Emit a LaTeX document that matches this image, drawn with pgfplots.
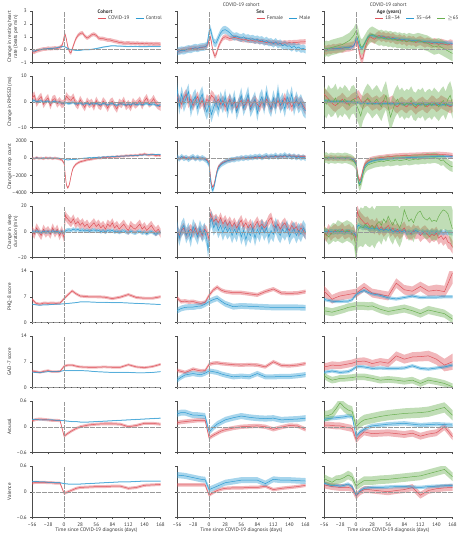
\documentclass[border=0pt]{standalone}
\usepackage{pgfplots}
\usepackage{pgfplotstable}
\pgfplotsset{compat=1.18}
\usepgfplotslibrary{fillbetween}
\usepackage{fontspec}
\setmainfont{PT Sans}
\newcommand{\fs}{\fontsize{5.1}{6}\selectfont}
\definecolor{cred}{RGB}{222,84,92}
\definecolor{cblue}{RGB}{45,155,210}
\definecolor{cgreen}{RGB}{105,175,80}
\newcommand{\bnd}[4]{%
 \addplot[draw=none, forget plot, name path=U#2] table[x=x, y expr=\thisrow{#2}+#3] {#1};
 \addplot[draw=none, forget plot, name path=L#2] table[x=x, y expr=\thisrow{#2}-#3] {#1};
 \addplot[fill=#4, fill opacity=0.42, draw=none, forget plot] fill between[of=U#2 and L#2];}
\newcommand{\lin}[3]{\addplot[#3, line width=0.5pt, forget plot] table[x=x, y=#2] {#1};}
\newcommand{\zl}{%
 \draw[black!40, line width=0.3pt, dash pattern=on 0.4pt off 0.8pt] ({axis cs:0,0}|-{rel axis cs:0,0}) -- ({axis cs:0,0}|-{rel axis cs:0,1});
 \draw[black!40, line width=0.3pt, dash pattern=on 0.4pt off 0.8pt] ({rel axis cs:0,0}|-{axis cs:0,0}) -- ({rel axis cs:1,0}|-{axis cs:0,0});}
\pgfplotsset{
 panel/.style={
  width=128.5pt, height=51.5pt, scale only axis, anchor=north west,
  xmin=-56, xmax=168, clip mode=individual,
  axis lines=left, axis line style={-, black!70, line width=0.35pt},
  tick style={black!70, line width=0.35pt},
  tick align=outside, major tick length=1.8pt,
  xtick={-56,-28,0,28,56,84,112,140,168}, xticklabels={},
  ticklabel style={font=\fs, text=black!80},
  ylabel style={font=\fs, text=black!80, align=center, at={(rel axis cs:-0.2178,0.5)}, anchor=north},
  xlabel style={font=\fs, text=black!80, at={(rel axis cs:0.5,-0.25)}, anchor=center},
  legend style={draw=none, fill=none, font=\fs, text=black!80, legend columns=-1, inner sep=0pt, anchor=west,
    /tikz/every even column/.append style={column sep=4pt}},
  legend cell align=left,
  legend image code/.code={\draw[##1, line width=0.5pt] (0pt,0pt) -- (8pt,0pt);},
 },
 r1/.style={ymin=-1, ymax=3, ytick={-1,0,1,2,3}},
 r2/.style={ymin=-10, ymax=10, ytick={-10,0,10}},
 r3/.style={ymin=-4000, ymax=2000, ytick={-4000,-2000,0,2000}, scaled y ticks=false},
 r4/.style={ymin=-20, ymax=20, ytick={-20,0,20}},
 r5/.style={ymin=0, ymax=14, ytick={0,7,14}},
 r7/.style={ymin=-0.6, ymax=0.6, ytick={-0.6,0,0.6}},
 nol/.style={yticklabels={}},
 bot/.style={xticklabels={–56,–28,0,28,56,84,112,140,168}, xlabel={Time since COVID-19 diagnosis (days)}},
}
% ---------- row 1 ----------
\pgfplotstablenew[
create on use/x/.style={create col/set list={-56,-52,-48,-44,-40,-36,-32,-28,-24,-20,-16,-12,-8,-4,-2,0,2,4,6,8,10,12,16,20,24,28,32,36,40,44,48,52,56,60,64,68,72,76,80,84,88,92,96,100,104,108,112,116,120,124,128,132,136,140,144,148,152,156,160,164,168}},
create on use/a/.style={create col/set list={-0.15,-0.2,-0.1,-0.05,0,0.05,0.05,0.1,0.08,0.1,0.12,0.1,0.15,0.3,0.55,1.0,1.15,0.8,0.3,0,-0.2,-0.25,0.3,0.8,1.1,1.25,1.3,1.05,0.9,1.0,1.15,1.2,1.1,0.9,0.85,0.85,0.8,0.75,0.75,0.7,0.65,0.62,0.55,0.55,0.5,0.5,0.52,0.48,0.5,0.47,0.5,0.45,0.48,0.45,0.47,0.44,0.46,0.43,0.45,0.44,0.42}},
create on use/b/.style={create col/set list={-0.1,-0.12,-0.05,0,0,0.05,0.05,0.08,0.1,0.1,0.12,0.15,0.2,0.22,0.25,0.25,0.2,0.15,0.1,0.05,0.02,0,-0.02,-0.05,-0.05,-0.05,-0.02,0,0,0,0.02,0.05,0.08,0.12,0.15,0.2,0.22,0.25,0.28,0.3,0.3,0.28,0.28,0.27,0.26,0.25,0.25,0.25,0.24,0.24,0.24,0.23,0.23,0.23,0.23,0.24,0.24,0.25,0.25,0.25,0.25}},
columns={x,a,b}]{61}\tAa
\pgfplotstablenew[
create on use/x/.style={create col/set list={-56,-52,-48,-44,-40,-36,-32,-28,-24,-20,-16,-12,-8,-4,-2,0,2,4,6,8,10,12,16,20,24,28,32,36,40,44,48,52,56,60,64,68,72,76,80,84,88,92,96,100,104,108,112,116,120,124,128,132,136,140,144,148,152,156,160,164,168}},
create on use/a/.style={create col/set list={-0.1,-0.12,-0.05,0,-0.02,0.05,0.08,0.1,0.12,0.1,0.15,0.18,0.2,0.3,0.4,0.8,1.0,0.6,0.0,-0.3,-0.5,-0.4,0.2,0.6,0.9,1.0,0.95,0.85,0.9,0.95,0.9,0.85,0.8,0.75,0.8,0.7,0.75,0.7,0.65,0.7,0.6,0.65,0.6,0.55,0.6,0.5,0.55,0.5,0.52,0.48,0.5,0.53,0.5,0.55,0.52,0.56,0.55,0.58,0.6,0.6,0.62}},
create on use/b/.style={create col/set list={-0.15,-0.1,-0.05,-0.08,0,0.05,0.02,0.1,0.15,0.1,0.18,0.2,0.22,0.3,0.8,1.4,1.6,1.3,0.9,0.6,0.5,0.5,0.9,1.3,1.5,1.55,1.45,1.3,1.1,1.0,1.05,0.95,0.9,1.0,0.85,0.9,0.8,0.85,0.75,0.8,0.7,0.75,0.6,0.7,0.55,0.6,0.45,0.6,0.4,0.5,0.3,0.4,0.25,0.3,0.15,0.3,0.1,0.2,0.05,0.1,0.0}},
columns={x,a,b}]{61}\tAb
\pgfplotstablenew[
create on use/x/.style={create col/set list={-56,-52,-48,-44,-40,-36,-32,-28,-24,-20,-16,-12,-8,-4,-2,0,2,4,6,8,10,12,16,20,24,28,32,36,40,44,48,52,56,60,64,68,72,76,80,84,88,92,96,100,104,108,112,116,120,124,128,132,136,140,144,148,152,156,160,164,168}},
create on use/a/.style={create col/set list={0,-0.05,0.05,0,0.1,0.05,0.1,0.15,0.1,0.15,0.2,0.2,0.25,0.3,0.5,0.7,0.6,0.2,-0.3,-0.6,-0.75,-0.6,0.2,0.7,1.0,0.9,0.8,1.0,1.1,0.95,1.05,0.9,1.0,0.85,0.95,0.8,0.75,0.85,0.7,0.8,0.6,0.75,0.65,0.7,0.55,0.65,0.7,0.6,0.5,0.6,0.55,0.45,0.55,0.5,0.4,0.5,0.45,0.4,0.35,0.45,0.4}},
create on use/b/.style={create col/set list={0,0,0.02,0.05,0.05,0.08,0.1,0.1,0.12,0.15,0.15,0.18,0.2,0.3,0.5,0.9,0.9,0.6,0.3,0.15,0.1,0.2,0.6,0.95,1.1,1.1,1.05,1.0,0.95,1.0,0.95,0.9,0.9,0.88,0.85,0.85,0.82,0.8,0.8,0.78,0.75,0.75,0.72,0.7,0.7,0.68,0.65,0.65,0.62,0.6,0.6,0.58,0.56,0.55,0.54,0.53,0.52,0.52,0.5,0.5,0.48}},
create on use/c/.style={create col/set list={0,0.1,0.05,0.15,0.2,0.25,0.3,0.35,0.4,0.5,0.6,0.7,0.9,1.1,1.3,1.45,1.3,1.0,0.6,0.3,0.2,0.3,0.6,0.9,1.1,1.2,1.1,1.0,0.9,0.95,0.85,0.9,0.8,0.85,0.75,0.8,0.7,0.75,0.65,0.7,0.6,0.7,0.65,0.6,0.65,0.7,0.65,0.6,0.55,0.5,0.4,0.3,0.2,0.25,0.3,0.2,0.1,0.0,-0.1,-0.2,-0.3}},
columns={x,a,b,c}]{61}\tAc
% ---------- row 2 ----------
\pgfplotstablenew[
create on use/x/.style={create col/set list={-56,-52,-48,-44,-40,-36,-32,-28,-24,-20,-16,-12,-8,-4,0,4,8,12,16,20,24,28,32,36,40,44,48,52,56,60,64,68,72,76,80,84,88,92,96,100,104,108,112,116,120,124,128,132,136,140,144,148,152,156,160,164,168}},
create on use/a/.style={create col/set list={1.5,2.5,-0.5,1.0,2.0,-1.0,0.5,1.5,-1.5,0.8,1.2,-0.8,0.3,-1.0,-0.5,2.2,1.0,0.5,1.8,-0.5,-1.5,0.8,-0.8,-2.2,0.2,-1.0,-0.3,-2.0,0.5,-1.2,-1.8,0.3,-0.8,-2.5,-0.5,0.2,-1.5,-2.8,-0.3,-1.0,0.5,-1.8,-0.8,-2.2,0.0,-1.2,-0.5,0.6,-1.5,0.3,1.5,-0.8,-0.2,1.2,-0.6,-1.5,-2.0}},
create on use/b/.style={create col/set list={0.3,0.5,0.0,0.2,0.4,-0.2,0.1,0.3,-0.4,0.0,0.2,-0.3,-0.1,-0.5,-0.6,-0.4,-0.8,-0.5,-0.3,-0.9,-0.7,-0.4,-1.0,-0.8,-0.5,-1.1,-0.7,-0.9,-0.6,-1.0,-1.2,-0.6,-0.9,-1.3,-0.8,-0.7,-1.1,-1.4,-0.9,-0.8,-1.0,-1.3,-0.9,-1.2,-0.7,-1.0,-1.1,-0.8,-1.2,-0.9,-0.7,-1.1,-1.0,-0.9,-1.3,-1.5,-1.2}},
columns={x,a,b}]{57}\tBa
\pgfplotstablenew[
create on use/x/.style={create col/set list={-56,-52,-48,-44,-40,-36,-32,-28,-24,-20,-16,-12,-8,-4,0,4,8,12,16,20,24,28,32,36,40,44,48,52,56,60,64,68,72,76,80,84,88,92,96,100,104,108,112,116,120,124,128,132,136,140,144,148,152,156,160,164,168}},
create on use/a/.style={create col/set list={2.0,0.5,-1.0,1.5,3.0,-0.5,1.0,-1.5,0.5,2.0,-1.0,0.5,-2.0,1.0,0.0,2.5,1.5,-0.5,1.0,-1.0,0.5,-2.0,-0.5,1.0,-1.5,0.0,-2.5,-0.5,0.5,-1.5,-1.0,1.0,-2.0,-0.5,0.5,-1.0,-2.0,0.0,-1.5,1.0,-0.5,-2.5,0.0,-1.0,0.5,-1.5,-0.5,1.5,-1.0,0.0,-2.0,-0.5,0.5,-1.0,0.0,-1.5,-3.0}},
create on use/b/.style={create col/set list={5.0,-2.0,3.0,-1.0,1.5,4.0,-3.0,0.5,2.0,-2.5,1.0,3.0,-1.5,-4.0,-1.0,-5.0,-2.0,0.0,-3.0,1.0,-1.5,2.0,-3.5,0.5,-2.0,1.5,-4.0,-1.0,2.5,-2.5,0.0,3.0,-3.0,-1.0,1.0,-4.5,0.0,2.0,-2.0,3.5,-1.0,-3.0,1.5,-2.0,4.0,-1.5,0.5,-3.0,2.0,-0.5,3.0,-2.5,1.0,-1.5,0.0,-2.5,-3.5}},
columns={x,a,b}]{57}\tBb
\pgfplotstablenew[
create on use/x/.style={create col/set list={-56,-52,-48,-44,-40,-36,-32,-28,-24,-20,-16,-12,-8,-4,0,4,8,12,16,20,24,28,32,36,40,44,48,52,56,60,64,68,72,76,80,84,88,92,96,100,104,108,112,116,120,124,128,132,136,140,144,148,152,156,160,164,168}},
create on use/a/.style={create col/set list={3.0,2.0,1.0,0.0,-1.0,-1.5,-0.5,0.0,1.0,0.0,-1.0,-0.5,0.5,1.0,1.5,2.0,0.5,-0.5,0.5,1.0,0.0,-1.0,-0.5,0.0,-1.0,-0.5,0.5,0.0,-1.0,-0.5,0.0,-1.5,-2.0,-1.0,-0.5,-1.5,-2.0,-1.0,-0.5,-1.5,-2.5,-1.5,-1.0,-0.5,-1.5,-2.0,-1.0,0.0,-0.5,-1.5,-1.0,0.0,-0.5,-1.0,-1.5,-2.0,-1.5}},
create on use/b/.style={create col/set list={0.5,0.3,0.4,0.1,0.2,-0.1,0.3,0.0,0.2,-0.2,0.1,-0.1,0.0,-0.3,-0.4,-0.2,-0.6,-0.4,-0.3,-0.7,-0.5,-0.6,-0.8,-0.5,-0.7,-0.9,-0.6,-0.8,-0.5,-0.9,-0.7,-1.0,-0.8,-0.6,-0.9,-1.1,-0.8,-0.9,-1.0,-0.7,-1.1,-0.9,-1.2,-0.8,-1.0,-1.1,-0.9,-1.2,-1.0,-0.8,-1.1,-1.3,-1.0,-1.2,-1.1,-1.4,-1.2}},
create on use/c/.style={create col/set list={0.5,-1.0,1.0,-0.5,0.0,1.5,-1.0,0.5,-0.5,1.0,0.0,-1.5,0.5,1.0,-1.0,-3.0,-5.5,-2.0,0.0,1.5,0.5,-1.0,0.0,1.0,-0.5,-2.0,0.5,2.5,-2.0,-6.0,-3.0,-0.5,1.0,-1.0,0.0,-1.5,-0.5,-1.0,0.5,-1.5,-2.0,-0.5,-1.0,0.0,-2.0,-1.0,-0.5,-1.5,0.0,-1.0,-2.0,-0.5,0.5,-1.5,1.0,2.5,-1.0}},
columns={x,a,b,c}]{57}\tBc
% ---------- row 3 ----------
\pgfplotstablenew[
create on use/x/.style={create col/set list={-56,-52,-48,-44,-40,-36,-32,-28,-24,-20,-16,-12,-8,-4,0,2,4,6,8,10,12,14,16,20,24,28,32,36,40,44,48,52,56,60,64,68,72,76,80,84,88,92,96,100,104,108,112,116,120,124,128,132,136,140,144,148,152,156,160,164,168}},
create on use/a/.style={create col/set list={50,-60,80,-30,20,-80,60,-20,40,-70,30,-50,-100,-200,-600,-2000,-3100,-3450,-3300,-2800,-2100,-1500,-1100,-750,-550,-420,-350,-280,-200,-160,-120,-60,-20,30,0,80,50,120,100,160,120,200,180,250,220,300,260,330,280,350,300,420,380,500,400,350,420,380,300,350,280}},
create on use/b/.style={create col/set list={20,-30,40,0,-20,30,-40,10,-10,20,-30,0,-20,-60,-100,-150,-180,-200,-190,-180,-170,-160,-150,-130,-100,-60,-20,0,20,60,40,90,70,120,100,150,130,170,150,200,180,230,210,250,230,280,260,300,280,330,310,360,340,400,370,420,390,440,410,450,430}},
columns={x,a,b}]{61}\tCa
\pgfplotstablenew[
create on use/x/.style={create col/set list={-56,-52,-48,-44,-40,-36,-32,-28,-24,-20,-16,-12,-8,-4,0,2,4,6,8,10,12,14,16,20,24,28,32,36,40,44,48,52,56,60,64,68,72,76,80,84,88,92,96,100,104,108,112,116,120,124,128,132,136,140,144,148,152,156,160,164,168}},
create on use/a/.style={create col/set list={80,-40,20,100,-60,40,-20,60,-80,30,0,-40,-80,-150,-500,-1900,-3000,-3350,-3200,-2700,-2000,-1400,-1000,-700,-500,-380,-300,-220,-180,-100,-60,-20,0,40,-20,60,20,100,60,140,80,150,100,180,120,200,150,220,160,240,180,260,200,300,220,260,180,240,160,220,150}},
create on use/b/.style={create col/set list={150,-100,200,-50,100,-150,50,180,-80,120,-120,60,-100,-300,-800,-2300,-3400,-3750,-3500,-2900,-2200,-1600,-1200,-800,-600,-450,-300,-250,-150,-200,-50,-100,50,-50,100,0,150,50,200,100,250,50,200,300,100,250,150,350,100,300,200,400,150,300,100,250,50,200,0,150,-50}},
columns={x,a,b}]{61}\tCb
\pgfplotstablenew[
create on use/x/.style={create col/set list={-56,-52,-48,-44,-40,-36,-32,-28,-24,-20,-16,-12,-8,-4,0,2,4,6,8,10,12,14,16,20,24,28,32,36,40,44,48,52,56,60,64,68,72,76,80,84,88,92,96,100,104,108,112,116,120,124,128,132,136,140,144,148,152,156,160,164,168}},
create on use/a/.style={create col/set list={0,40,-30,60,-20,30,-50,20,0,-40,30,-20,-100,-200,-500,-1500,-2300,-2600,-2400,-1900,-1300,-900,-600,-350,-200,-100,-50,0,50,80,100,150,180,200,220,250,260,280,300,310,320,330,340,350,360,370,380,390,400,410,420,430,440,450,460,440,420,400,380,350,300}},
create on use/b/.style={create col/set list={0,-20,30,-10,20,-30,10,0,20,-20,10,0,-80,-200,-700,-2000,-2800,-3000,-2800,-2300,-1700,-1200,-850,-600,-450,-350,-280,-220,-180,-150,-120,-100,-80,-60,-40,-20,0,10,20,40,50,60,80,90,100,110,120,130,140,150,160,170,180,190,200,210,200,210,220,200,210}},
create on use/c/.style={create col/set list={0,100,-100,50,0,-50,50,0,-50,50,0,-100,-200,-400,-800,-1900,-2800,-3200,-3000,-2500,-1900,-1400,-1100,-800,-700,-600,-500,-450,-400,-350,-400,-300,-250,-350,-300,-250,-200,-300,-250,-200,-150,-250,-200,-150,-100,-150,-100,-50,-100,0,-50,0,50,0,-100,-300,-200,-500,-700,-900,-1000}},
columns={x,a,b,c}]{61}\tCc
% ---------- row 4 ----------
\pgfplotstablenew[
create on use/x/.style={create col/set list={-56,-52,-48,-44,-40,-36,-32,-28,-24,-20,-16,-12,-8,-4,-2,0,2,4,8,12,16,20,24,28,32,36,40,44,48,52,56,60,64,68,72,76,80,84,88,92,96,100,104,108,112,116,120,124,128,132,136,140,144,148,152,156,160,164,168}},
create on use/a/.style={create col/set list={1,-2,3,0,-3,2,-1,1,-2,3,-1,2,-3,1,-2,-5,13,11,9,7,10,6,8,5,7,4,6,3,5,7,4,6,3,5,2,6,4,7,3,5,2,4,6,3,1,5,3,2,4,6,2,4,1,3,5,2,0,2,-1}},
create on use/b/.style={create col/set list={0.5,-0.5,0.8,0,-0.8,0.5,-0.3,0.2,-0.6,0.8,-0.2,0.4,-0.8,0.2,-0.5,-0.5,0.5,1.0,1.5,1.0,2.0,1.2,1.8,0.8,1.5,0.5,1.2,0.3,1.0,1.5,0.5,1.0,0.0,0.8,-0.3,1.0,0.3,1.2,-0.2,0.5,-0.5,0.3,0.8,-0.3,-0.8,0.5,-0.5,-1.0,0.0,0.5,-1.0,-0.3,-1.5,-0.5,0.2,-1.0,-2.0,-0.8,-0.5}},
columns={x,a,b}]{59}\tDa
\pgfplotstablenew[
create on use/x/.style={create col/set list={-56,-52,-48,-44,-40,-36,-32,-28,-24,-20,-16,-12,-8,-4,-2,0,2,4,8,12,16,20,24,28,32,36,40,44,48,52,56,60,64,68,72,76,80,84,88,92,96,100,104,108,112,116,120,124,128,132,136,140,144,148,152,156,160,164,168}},
create on use/a/.style={create col/set list={2,-3,1,3,-2,0,2,-1,3,-2,1,-3,2,0,-3,-6,14,12,8,10,7,11,6,9,5,8,4,7,3,6,9,4,7,3,6,2,5,8,4,6,3,5,9,11,5,3,6,2,5,7,3,1,5,2,4,0,3,1,-2}},
create on use/b/.style={create col/set list={3,-5,2,5,-3,1,-6,4,0,-4,3,-2,1,-6,-14,-8,8,10,3,7,1,5,-1,4,0,3,-3,2,-2,4,-4,1,-6,0,-3,3,-5,2,-2,4,-1,3,-4,1,-2,5,0,-3,2,-1,3,-4,0,2,-3,1,-2,3,0}},
columns={x,a,b}]{59}\tDb
\pgfplotstablenew[
create on use/x/.style={create col/set list={-56,-52,-48,-44,-40,-36,-32,-28,-24,-20,-16,-12,-8,-4,-2,0,2,4,8,12,16,20,24,28,32,36,40,44,48,52,56,60,64,68,72,76,80,84,88,92,96,100,104,108,112,116,120,124,128,132,136,140,144,148,152,156,160,164,168}},
create on use/a/.style={create col/set list={0,-3,1,-2,0,1,-1,0,2,-1,0,1,-2,0,-3,-5,16,13,10,8,6,7,4,5,3,6,2,4,1,3,5,1,3,0,2,-1,1,3,-1,0,-2,1,-1,0,-3,-1,0,-2,-4,-2,-3,-1,-5,-3,-6,-4,-8,-9,-12}},
create on use/b/.style={create col/set list={0,0.5,-0.5,0.3,-0.3,0.2,-0.2,0.5,0,-0.5,0.3,0,-0.5,-1,-2,-3,4,5,4,3,4,3,2,3,2,3,1,2,1,2,1,2,0,1,0,1,0,1,-1,0,-1,0,1,0,-1,0,-1,0,-1,0,-1,0,-1,0,-1,0,-1,-0.5,-1}},
create on use/c/.style={create col/set list={0,-2,-4,-2,0,-1,1,0,-1,0,1,0,-1,-3,-8,-18,-4,2,4,3,6,4,3,5,2,6,8,5,10,7,12,8,5,10,6,3,8,17,12,8,10,7,12,15,16,12,10,9,11,8,9,8,12,15,17,16,14,8,2}},
create on use/ec/.style={create col/set list={4,5,6,7,7,7,8,8,8,8,8,8,8,8,9,12,12,14,15,15,15,15,15,15,15,15,15,15,15,15,15,15,15,15,15,15,15,15,15,15,15,15,15,15,15,15,15,15,15,15,15,15,15,15,15,15,15,15,15}},
columns={x,a,b,c,ec}]{59}\tDc
% ---------- rows 5-8 ----------
\pgfplotstablenew[
create on use/x/.style={create col/set list={-56,-49,-42,-35,-28,-21,-14,-7,0,7,14,21,28,42,56,70,84,98,112,126,140,154,168}},
create on use/a/.style={create col/set list={6.3,5.2,5.0,5.3,5.2,5.3,5.2,5.3,6.5,7.6,8.6,7.8,7.2,7.0,7.0,6.9,6.5,6.9,7.6,6.8,6.6,6.6,7.0}},
create on use/b/.style={create col/set list={5.0,4.8,4.7,4.8,4.8,4.9,5.0,5.0,5.1,5.2,5.3,5.4,5.6,5.6,5.5,5.5,5.4,5.4,5.3,5.2,5.1,5.0,4.9}},
columns={x,a,b}]{23}\tEa
\pgfplotstablenew[
create on use/x/.style={create col/set list={-56,-49,-42,-35,-28,-21,-14,-7,0,7,14,21,28,42,56,70,84,98,112,126,140,154,168}},
create on use/a/.style={create col/set list={6.7,5.7,5.8,5.6,5.7,5.4,5.2,5.5,7.4,8.8,9.6,8.8,8.4,8.1,8.1,7.8,7.5,8.4,9.1,8.0,7.9,8.0,8.4}},
create on use/b/.style={create col/set list={3.2,3.8,4.1,4.2,4.2,4.4,4.5,5.0,5.7,6.2,6.6,5.8,5.1,4.3,4.5,4.4,4.3,4.2,4.1,4.1,4.1,4.1,4.0}},
columns={x,a,b}]{23}\tEb
\pgfplotstablenew[
create on use/x/.style={create col/set list={-56,-49,-42,-35,-28,-21,-14,-7,0,7,14,21,28,42,56,70,84,98,112,126,140,154,168}},
create on use/a/.style={create col/set list={8.5,7.5,6.3,6.8,7.2,7.4,7.6,7.8,8.0,8.8,9.6,8.8,8.0,7.6,7.2,10.7,8.9,8.5,9.8,8.5,8.8,8.4,13.5}},
create on use/ea/.style={create col/set list={1.5,1.3,1.2,1.2,1.2,1.2,1.2,1.2,1.2,1.2,1.2,1.2,1.2,1.2,1.2,1.3,1.3,1.3,1.3,1.4,1.5,1.6,3.0}},
create on use/b/.style={create col/set list={6.3,6.0,5.8,5.7,5.7,5.8,5.8,6.2,7.6,8.3,8.7,8.2,7.8,7.4,6.7,6.4,6.8,7.2,6.8,6.9,6.9,7.0,7.0}},
create on use/c/.style={create col/set list={3.2,3.0,2.8,3.1,3.4,3.7,4.1,4.3,4.5,4.5,4.5,4.4,4.5,3.6,3.0,3.4,3.8,3.2,2.4,3.4,2.9,2.4,0.9}},
columns={x,a,ea,b,c}]{23}\tEc
\pgfplotstablenew[
create on use/x/.style={create col/set list={-56,-49,-42,-35,-28,-21,-14,-7,0,7,14,21,28,42,56,70,84,98,112,126,140,154,168}},
create on use/a/.style={create col/set list={4.5,4.3,4.1,4.4,4.6,4.3,4.3,4.4,5.8,6.1,6.1,5.8,5.6,5.5,5.5,5.6,5.5,5.5,6.2,5.6,5.4,5.7,6.3}},
create on use/b/.style={create col/set list={4.2,4.1,4.1,4.2,4.3,4.3,4.3,4.4,4.6,4.6,4.6,4.6,4.6,4.5,4.3,4.2,4.1,4.1,4.1,4.0,4.0,4.1,4.3}},
columns={x,a,b}]{23}\tFa
\pgfplotstablenew[
create on use/x/.style={create col/set list={-56,-49,-42,-35,-28,-21,-14,-7,0,7,14,21,28,42,56,70,84,98,112,126,140,154,168}},
create on use/a/.style={create col/set list={4.7,4.4,4.1,4.5,5.0,4.7,4.5,4.6,6.3,6.6,6.7,6.5,6.4,6.2,6.1,6.2,6.1,5.6,7.0,6.0,5.9,6.1,6.5}},
create on use/b/.style={create col/set list={2.0,2.8,3.4,3.6,3.8,3.6,3.5,3.9,4.5,4.3,4.1,3.7,3.4,2.9,3.1,2.9,3.8,2.9,2.9,3.0,3.0,3.2,3.5}},
columns={x,a,b}]{23}\tFb
\pgfplotstablenew[
create on use/x/.style={create col/set list={-56,-49,-42,-35,-28,-21,-14,-7,0,7,14,21,28,42,56,70,84,98,112,126,140,154,168}},
create on use/a/.style={create col/set list={5.6,5.8,6.1,6.0,6.0,6.2,6.4,6.6,7.0,7.1,7.2,6.9,6.5,7.0,6.6,8.6,7.7,8.3,8.4,8.6,7.7,6.1,7.0}},
create on use/ea/.style={create col/set list={1.0,1.0,1.0,1.0,1.0,1.0,1.0,1.0,1.0,1.0,1.0,1.0,1.0,1.0,1.1,1.2,1.2,1.3,1.3,1.4,1.5,1.7,2.2}},
create on use/b/.style={create col/set list={4.1,4.3,4.5,4.3,4.1,4.2,4.3,4.8,5.6,5.7,5.6,5.4,5.2,5.3,5.2,5.2,5.3,5.9,5.2,5.0,5.3,5.6,6.1}},
create on use/c/.style={create col/set list={3.2,2.5,2.0,2.2,2.5,2.5,2.6,2.7,2.9,2.9,2.9,2.7,2.5,2.0,2.2,2.0,1.7,2.0,1.1,2.0,1.6,1.1,0.2}},
columns={x,a,ea,b,c}]{23}\tFc
\pgfplotstablenew[
create on use/x/.style={create col/set list={-56,-49,-42,-35,-28,-21,-14,-7,0,7,14,21,28,42,56,70,84,98,112,126,140,154,168}},
create on use/a/.style={create col/set list={0.14,0.17,0.18,0.17,0.16,0.15,0.15,0.14,-0.22,-0.15,-0.09,-0.04,0.0,0.04,0.06,0.07,0.07,0.06,0.0,0.03,0.08,0.08,0.06}},
create on use/b/.style={create col/set list={0.17,0.17,0.16,0.16,0.16,0.16,0.15,0.15,0.14,0.13,0.12,0.12,0.11,0.11,0.12,0.13,0.14,0.15,0.16,0.17,0.18,0.19,0.2}},
columns={x,a,b}]{23}\tGa
\pgfplotstablenew[
create on use/x/.style={create col/set list={-56,-49,-42,-35,-28,-21,-14,-7,0,7,14,21,28,42,56,70,84,98,112,126,140,154,168}},
create on use/a/.style={create col/set list={0.09,0.11,0.12,0.13,0.14,0.15,0.15,0.15,-0.26,-0.2,-0.15,-0.1,-0.07,-0.03,0.0,0.01,0.02,0.0,-0.06,-0.01,0.03,0.02,-0.06}},
create on use/b/.style={create col/set list={0.3,0.33,0.33,0.3,0.27,0.27,0.26,0.25,-0.12,-0.02,0.06,0.11,0.16,0.21,0.25,0.22,0.2,0.19,0.2,0.16,0.17,0.18,0.2}},
columns={x,a,b}]{23}\tGb
\pgfplotstablenew[
create on use/x/.style={create col/set list={-56,-49,-42,-35,-28,-21,-14,-7,0,7,14,21,28,42,56,70,84,98,112,126,140,154,168}},
create on use/a/.style={create col/set list={0.04,0.04,0.03,0.02,0.02,0.0,-0.02,-0.04,-0.3,-0.2,-0.12,-0.14,-0.16,-0.15,-0.14,-0.16,-0.18,-0.15,-0.22,-0.17,-0.14,0.0,-0.23}},
create on use/b/.style={create col/set list={0.17,0.19,0.2,0.21,0.22,0.23,0.25,0.24,-0.22,-0.12,-0.06,-0.01,0.02,0.04,0.06,0.07,0.08,0.06,0.04,0.05,0.06,0.05,0.04}},
create on use/c/.style={create col/set list={0.25,0.26,0.3,0.42,0.56,0.46,0.39,0.36,0.0,0.1,0.16,0.18,0.2,0.24,0.27,0.29,0.31,0.32,0.33,0.35,0.4,0.45,0.27}},
columns={x,a,b,c}]{23}\tGc
\pgfplotstablenew[
create on use/x/.style={create col/set list={-56,-49,-42,-35,-28,-21,-14,-7,0,7,14,21,28,42,56,70,84,98,112,126,140,154,168}},
create on use/a/.style={create col/set list={0.2,0.22,0.22,0.22,0.21,0.21,0.2,0.2,-0.04,0.0,0.04,0.08,0.1,0.11,0.12,0.12,0.13,0.13,0.08,0.1,0.15,0.16,0.17}},
create on use/b/.style={create col/set list={0.24,0.24,0.23,0.23,0.22,0.22,0.21,0.21,0.19,0.18,0.18,0.18,0.18,0.19,0.2,0.21,0.22,0.23,0.23,0.24,0.25,0.25,0.25}},
columns={x,a,b}]{23}\tHa
\pgfplotstablenew[
create on use/x/.style={create col/set list={-56,-49,-42,-35,-28,-21,-14,-7,0,7,14,21,28,42,56,70,84,98,112,126,140,154,168}},
create on use/a/.style={create col/set list={0.16,0.16,0.16,0.16,0.16,0.16,0.16,0.16,-0.08,-0.02,0.03,0.06,0.08,0.09,0.09,0.1,0.1,0.13,0.05,0.08,0.1,0.12,0.15}},
create on use/b/.style={create col/set list={0.39,0.38,0.37,0.35,0.33,0.31,0.29,0.28,0.05,0.09,0.13,0.17,0.21,0.24,0.27,0.27,0.27,0.19,0.29,0.27,0.27,0.26,0.25}},
columns={x,a,b}]{23}\tHb
\pgfplotstablenew[
create on use/x/.style={create col/set list={-56,-49,-42,-35,-28,-21,-14,-7,0,7,14,21,28,42,56,70,84,98,112,126,140,154,168}},
create on use/a/.style={create col/set list={0.16,0.14,0.12,0.11,0.1,0.1,0.1,0.08,-0.1,0.0,0.05,0.05,0.04,0.02,0.0,0.03,0.05,0.1,-0.08,0.03,0.07,0.09,0.1}},
create on use/b/.style={create col/set list={0.2,0.17,0.14,0.15,0.13,0.15,0.18,0.12,-0.08,0.02,0.08,0.09,0.1,0.1,0.11,0.12,0.12,0.11,0.1,0.12,0.13,0.14,0.15}},
create on use/c/.style={create col/set list={0.31,0.26,0.22,0.28,0.29,0.33,0.39,0.34,0.13,0.2,0.26,0.26,0.26,0.28,0.29,0.31,0.33,0.35,0.37,0.42,0.47,0.52,0.35}},
columns={x,a,b,c}]{23}\tHc
\begin{document}
\begin{tikzpicture}
% ===== row 1 =====
\begin{axis}[panel, r1, at={(32pt,-11pt)}, yticklabels={–1,0,1,2,3},
  ylabel={Change in resting heart\\rate (beats per min)}, legend style={at={(0.51,0.86)}}]
\bnd{\tAa}{a}{0.15}{cred}\bnd{\tAa}{b}{0.05}{cblue}
\lin{\tAa}{a}{cred}\lin{\tAa}{b}{cblue}\zl
\addlegendimage{cred}\addlegendentry{COVID-19}
\addlegendimage{cblue}\addlegendentry{Control}
\node[font=\fs\bfseries, text=black!80, anchor=west, inner sep=0pt] at (rel axis cs:0.51,0.985) {Cohort};
\end{axis}
\begin{axis}[panel, r1, nol, at={(177pt,-11pt)}, legend style={at={(0.617,0.86)}}]
\bnd{\tAb}{a}{0.2}{cred}\bnd{\tAb}{b}{0.3}{cblue}
\lin{\tAb}{a}{cred}\lin{\tAb}{b}{cblue}\zl
\addlegendimage{cred}\addlegendentry{Female}
\addlegendimage{cblue}\addlegendentry{Male}
\node[font=\fs\bfseries, text=black!80, anchor=west, inner sep=0pt] at (rel axis cs:0.617,0.985) {Sex};
\node[font=\fs, text=black!80, inner sep=0pt] at (rel axis cs:0.5,1.12) {COVID-19 cohort};
\end{axis}
\begin{axis}[panel, r1, nol, at={(324pt,-11pt)}, legend style={at={(0.395,0.86)}}]
\bnd{\tAc}{a}{0.35}{cred}\bnd{\tAc}{b}{0.15}{cblue}\bnd{\tAc}{c}{0.6}{cgreen}
\lin{\tAc}{a}{cred}\lin{\tAc}{b}{cblue}\lin{\tAc}{c}{cgreen}\zl
\addlegendimage{cred}\addlegendentry{18–34}
\addlegendimage{cblue}\addlegendentry{35–64}
\addlegendimage{cgreen}\addlegendentry{$\geq$65}
\node[font=\fs\bfseries, text=black!80, anchor=west, inner sep=0pt] at (rel axis cs:0.41,0.985) {Age (years)};
\node[font=\fs, text=black!80, inner sep=0pt] at (rel axis cs:0.5,1.12) {COVID-19 cohort};
\end{axis}
% ===== row 2 =====
\begin{axis}[panel, r2, at={(32pt,-76pt)}, yticklabels={–10,0,10}, ylabel={Change in RMSSD (ms)}]
\bnd{\tBa}{a}{1.5}{cred}\bnd{\tBa}{b}{0.5}{cblue}
\lin{\tBa}{a}{cred}\lin{\tBa}{b}{cblue}\zl
\end{axis}
\begin{axis}[panel, r2, nol, at={(177pt,-76pt)}]
\bnd{\tBb}{a}{2}{cred}\bnd{\tBb}{b}{3}{cblue}
\lin{\tBb}{a}{cred}\lin{\tBb}{b}{cblue}\zl
\end{axis}
\begin{axis}[panel, r2, nol, at={(324pt,-76pt)}]
\bnd{\tBc}{a}{2.5}{cred}\bnd{\tBc}{b}{0.6}{cblue}\bnd{\tBc}{c}{5.5}{cgreen}
\lin{\tBc}{a}{cred}\lin{\tBc}{b}{cblue}\lin{\tBc}{c}{cgreen}\zl
\end{axis}
% ===== row 3 =====
\begin{axis}[panel, r3, at={(32pt,-141pt)}, yticklabels={–4000,–2000,0,2000}, ylabel={Change in step count}]
\bnd{\tCa}{a}{150}{cred}\bnd{\tCa}{b}{60}{cblue}
\lin{\tCa}{a}{cred}\lin{\tCa}{b}{cblue}\zl
\end{axis}
\begin{axis}[panel, r3, nol, at={(177pt,-141pt)}]
\bnd{\tCb}{a}{180}{cred}\bnd{\tCb}{b}{300}{cblue}
\lin{\tCb}{a}{cred}\lin{\tCb}{b}{cblue}\zl
\end{axis}
\begin{axis}[panel, r3, nol, at={(324pt,-141pt)}]
\bnd{\tCc}{a}{300}{cred}\bnd{\tCc}{b}{150}{cblue}\bnd{\tCc}{c}{600}{cgreen}
\lin{\tCc}{a}{cred}\lin{\tCc}{b}{cblue}\lin{\tCc}{c}{cgreen}\zl
\end{axis}
% ===== row 4 =====
\begin{axis}[panel, r4, at={(32pt,-206pt)}, yticklabels={–20,0,20}, ylabel={Change in sleep\\duration (min)}]
\bnd{\tDa}{a}{3.5}{cred}\bnd{\tDa}{b}{1.5}{cblue}
\lin{\tDa}{a}{cred}\lin{\tDa}{b}{cblue}\zl
\end{axis}
\begin{axis}[panel, r4, nol, at={(177pt,-206pt)}]
\bnd{\tDb}{a}{4}{cred}\bnd{\tDb}{b}{6}{cblue}
\lin{\tDb}{a}{cred}\lin{\tDb}{b}{cblue}\zl
\end{axis}
\begin{axis}[panel, r4, nol, at={(324pt,-206pt)}]
\bnd{\tDc}{a}{5}{cred}\bnd{\tDc}{b}{2}{cblue}\bnd{\tDc}{c}{\thisrow{ec}}{cgreen}
\lin{\tDc}{a}{cred}\lin{\tDc}{b}{cblue}\lin{\tDc}{c}{cgreen}\zl
\end{axis}
% ===== row 5 =====
\begin{axis}[panel, r5, at={(32pt,-271pt)}, yticklabels={0,7,14}, ylabel={PHQ-8 score}]
\bnd{\tEa}{a}{0.4}{cred}\bnd{\tEa}{b}{0.12}{cblue}
\lin{\tEa}{a}{cred}\lin{\tEa}{b}{cblue}\zl
\end{axis}
\begin{axis}[panel, r5, nol, at={(177pt,-271pt)}]
\bnd{\tEb}{a}{0.55}{cred}\bnd{\tEb}{b}{0.8}{cblue}
\lin{\tEb}{a}{cred}\lin{\tEb}{b}{cblue}\zl
\end{axis}
\begin{axis}[panel, r5, nol, at={(324pt,-271pt)}]
\bnd{\tEc}{a}{\thisrow{ea}}{cred}\bnd{\tEc}{b}{0.45}{cblue}\bnd{\tEc}{c}{1.1}{cgreen}
\lin{\tEc}{a}{cred}\lin{\tEc}{b}{cblue}\lin{\tEc}{c}{cgreen}\zl
\end{axis}
% ===== row 6 =====
\begin{axis}[panel, r5, at={(32pt,-336pt)}, yticklabels={0,7,14}, ylabel={GAD-7 score}]
\bnd{\tFa}{a}{0.35}{cred}\bnd{\tFa}{b}{0.12}{cblue}
\lin{\tFa}{a}{cred}\lin{\tFa}{b}{cblue}\zl
\end{axis}
\begin{axis}[panel, r5, nol, at={(177pt,-336pt)}]
\bnd{\tFb}{a}{0.5}{cred}\bnd{\tFb}{b}{0.7}{cblue}
\lin{\tFb}{a}{cred}\lin{\tFb}{b}{cblue}\zl
\end{axis}
\begin{axis}[panel, r5, nol, at={(324pt,-336pt)}]
\bnd{\tFc}{a}{\thisrow{ea}}{cred}\bnd{\tFc}{b}{0.45}{cblue}\bnd{\tFc}{c}{0.9}{cgreen}
\lin{\tFc}{a}{cred}\lin{\tFc}{b}{cblue}\lin{\tFc}{c}{cgreen}\zl
\end{axis}
% ===== row 7 =====
\begin{axis}[panel, r7, at={(32pt,-401pt)}, yticklabels={–0.6,0,0.6}, ylabel={Arousal}]
\bnd{\tGa}{a}{0.035}{cred}\bnd{\tGa}{b}{0.012}{cblue}
\lin{\tGa}{a}{cred}\lin{\tGa}{b}{cblue}\zl
\end{axis}
\begin{axis}[panel, r7, nol, at={(177pt,-401pt)}]
\bnd{\tGb}{a}{0.05}{cred}\bnd{\tGb}{b}{0.07}{cblue}
\lin{\tGb}{a}{cred}\lin{\tGb}{b}{cblue}\zl
\end{axis}
\begin{axis}[panel, r7, nol, at={(324pt,-401pt)}]
\bnd{\tGc}{a}{0.08}{cred}\bnd{\tGc}{b}{0.05}{cblue}\bnd{\tGc}{c}{0.12}{cgreen}
\lin{\tGc}{a}{cred}\lin{\tGc}{b}{cblue}\lin{\tGc}{c}{cgreen}\zl
\end{axis}
% ===== row 8 =====
\begin{axis}[panel, r7, bot, at={(32pt,-466pt)}, yticklabels={–0.6,0,0.6}, ylabel={Valence}]
\bnd{\tHa}{a}{0.035}{cred}\bnd{\tHa}{b}{0.012}{cblue}
\lin{\tHa}{a}{cred}\lin{\tHa}{b}{cblue}\zl
\end{axis}
\begin{axis}[panel, r7, nol, bot, at={(177pt,-466pt)}]
\bnd{\tHb}{a}{0.04}{cred}\bnd{\tHb}{b}{0.07}{cblue}
\lin{\tHb}{a}{cred}\lin{\tHb}{b}{cblue}\zl
\end{axis}
\begin{axis}[panel, r7, nol, bot, at={(324pt,-466pt)}]
\bnd{\tHc}{a}{0.08}{cred}\bnd{\tHc}{b}{0.04}{cblue}\bnd{\tHc}{c}{0.1}{cgreen}
\lin{\tHc}{a}{cred}\lin{\tHc}{b}{cblue}\lin{\tHc}{c}{cgreen}\zl
\end{axis}
\pgfresetboundingbox
\useasboundingbox (0pt,0pt) rectangle (459pt,-537pt);
\end{tikzpicture}
\end{document}
